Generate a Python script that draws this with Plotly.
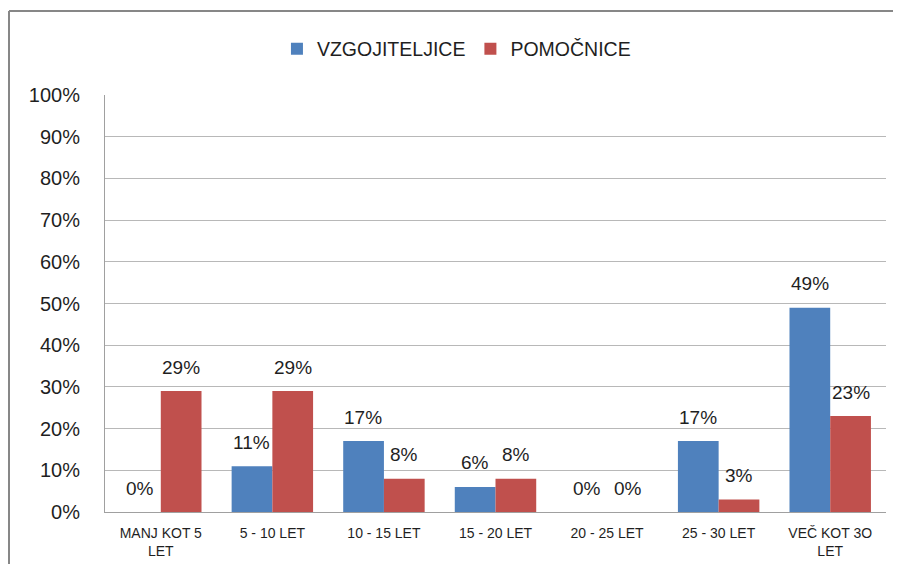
import plotly.graph_objects as go

categories = ["MANJ KOT 5<br>LET", "5 - 10 LET", "10 - 15 LET", "15 - 20 LET",
              "20 - 25 LET", "25 - 30 LET", "VEČ KOT 3O<br>LET"]
vzgojiteljice = [0.00, 0.11, 0.17, 0.06, 0.00, 0.17, 0.49]
pomocnice = [0.29, 0.29, 0.08, 0.08, 0.00, 0.03, 0.23]
series_names = ["VZGOJITELJICE", "POMOČNICE"]

BLUE = "#4F81BD"
RED = "#C0504D"
FONT = "Liberation Sans"
TXT = "#1f1f1f"

W, H = 885, 556
L, T, R, B = 97, 87, 7, 52
PW, PH = W - L - R, H - T - B

fig = go.Figure()
fig.add_trace(go.Bar(x=categories, y=vzgojiteljice, name=series_names[0],
                     marker=dict(color=BLUE, line=dict(width=0))))
fig.add_trace(go.Bar(x=categories, y=pomocnice, name=series_names[1],
                     marker=dict(color=RED, line=dict(width=0))))

annotations = []
for vals, shift in ((vzgojiteljice, -20.5), (pomocnice, 20.5)):
    for c, v in zip(categories, vals):
        annotations.append(dict(x=c, y=v, xref="x", yref="y",
                                text=f"{round(v*100)}%", showarrow=False,
                                xshift=shift, yshift=24, yanchor="middle",
                                font=dict(family=FONT, size=19, color=TXT)))

bx = (1 - L) / PW
by = (PH + T - 3) / PH
fig.update_layout(
    width=W, height=H,
    margin=dict(l=L, r=R, t=T, b=B, autoexpand=False),
    paper_bgcolor="white", plot_bgcolor="white",
    barmode="group", bargap=0.27, bargroupgap=0,
    font=dict(family=FONT, color=TXT),
    showlegend=True,
    legend=dict(orientation="h", x=0.45, xanchor="center", y=1.11, yanchor="middle",
                font=dict(family=FONT, size=19.5, color=TXT), itemwidth=30,
                traceorder="normal"),
    annotations=annotations,
    shapes=[
        dict(type="line", xref="paper", yref="paper",
             x0=bx, x1=1.2, y0=by, y1=by,
             line=dict(color="#878787", width=2)),
        dict(type="line", xref="paper", yref="paper",
             x0=bx, x1=bx, y0=by, y1=-0.3,
             line=dict(color="#878787", width=2)),
    ],
)
fig.update_xaxes(showline=True, linecolor="#a0a0a0", linewidth=1,
                 tickfont=dict(family=FONT, size=14, color=TXT),
                 ticks="", tickangle=0, ticklabelstandoff=8)
fig.update_yaxes(range=[0, 1], dtick=0.1, tickformat=".0%",
                 showgrid=True, gridcolor="#b8b8b8", gridwidth=1,
                 showline=True, linecolor="#a0a0a0", linewidth=1,
                 zeroline=False, ticklabelstandoff=20,
                 tickfont=dict(family=FONT, size=20, color=TXT))

fig.write_html("out.html")
